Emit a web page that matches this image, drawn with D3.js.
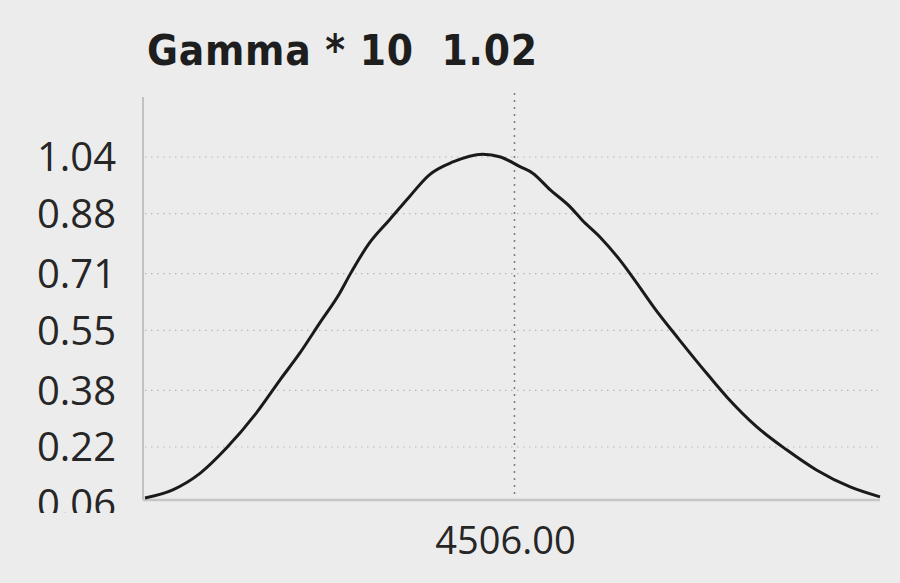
<!DOCTYPE html>
<html>
<head>
<meta charset="utf-8">
<script src="https://cdn.jsdelivr.net/npm/d3@7"></script>
<style>
  html, body { margin: 0; padding: 0; background: #ececec; }
  svg { display: block; }
</style>
</head>
<body>
<div id="vis"></div>
<script>
// values
var titleText = 'Gamma * 10  1.02';
var markerLabel = '4506.00';
var markerX = 4506;
var yTickLabels = ['0.06', '0.22', '0.38', '0.55', '0.71', '0.88', '1.04'];

var xValues = [4320, 4334, 4348, 4361, 4376, 4388, 4398, 4408, 4418, 4423, 4433, 4443, 4453, 4463, 4475, 4490, 4499,
               4509, 4515, 4524, 4534, 4540, 4549, 4559, 4569, 4576, 4589, 4604, 4613, 4628, 4643, 4658, 4675, 4690];
var gammaValues = [0.076, 0.099, 0.147, 0.217, 0.316, 0.410, 0.486, 0.571, 0.655, 0.706, 0.797, 0.862, 0.927, 0.989, 1.026, 1.048, 1.040,
                   1.012, 0.995, 0.947, 0.899, 0.862, 0.814, 0.749, 0.672, 0.616, 0.523, 0.420, 0.361, 0.277, 0.212, 0.155, 0.107, 0.079];

var width = 900;
var height = 583;
var margin = { top: 97, right: 20, bottom: 83, left: 143 };
var plotRight = 880;
var plotBottom = 500;

var svg = d3.select('#vis')
            .append('svg')
            .attr('width', width)
            .attr('height', height);

var xScale = d3.scaleLinear()
                .domain([d3.min(xValues), d3.max(xValues)])
                .range([145, plotRight]);

// 1.04 sits at 157px, 0.22 at 447px
var yScale = d3.scaleLinear()
                .domain([0.22, 1.04])
                .range([447, 157]);

// horizontal dotted grid
var yTicks = yTickLabels.map(function(d) { return +d; });
svg.append('g')
   .selectAll('line')
   .data(yTicks.slice(1))
   .enter()
   .append('line')
   .attr('x1', margin.left + 2)
   .attr('x2', plotRight - 2)
   .attr('y1', function(d) { return yScale(d); })
   .attr('y2', function(d) { return yScale(d); })
   .attr('stroke', '#b8b8b8')
   .attr('stroke-width', 1.2)
   .attr('stroke-dasharray', '1.5,4.5');

// axes lines
svg.append('line')
   .attr('x1', margin.left).attr('x2', margin.left)
   .attr('y1', margin.top).attr('y2', plotBottom)
   .attr('stroke', '#c2c2c2')
   .attr('stroke-width', 2);
svg.append('line')
   .attr('x1', margin.left).attr('x2', plotRight)
   .attr('y1', plotBottom).attr('y2', plotBottom)
   .attr('stroke', '#c6c6c6')
   .attr('stroke-width', 2.5);

// y tick labels, bottom one clipped like the original
svg.append('clipPath')
   .attr('id', 'labelClip')
   .append('rect')
   .attr('x', 0).attr('y', 0)
   .attr('width', margin.left).attr('height', 513);

svg.append('g')
   .attr('clip-path', 'url(#labelClip)')
   .selectAll('text')
   .data(yTickLabels)
   .enter()
   .append('text')
   .attr('x', 116)
   .attr('y', function(d) { return yScale(+d); })
   .attr('dy', '0.36em')
   .attr('text-anchor', 'end')
   .style('font-family', '"Open Sans", "Noto Sans", sans-serif')
   .style('font-size', '40px')
   .style('fill', '#262626')
   .text(function(d) { return d; });

// marker line
svg.append('line')
   .attr('x1', xScale(markerX)).attr('x2', xScale(markerX))
   .attr('y1', 93).attr('y2', plotBottom - 1)
   .attr('stroke', '#7a7a7a')
   .attr('stroke-width', 1.5)
   .attr('stroke-dasharray', '2,5');

svg.append('text')
   .attr('x', xScale(markerX) - 9)
   .attr('y', 554)
   .attr('text-anchor', 'middle')
   .style('font-family', '"Open Sans", "Noto Sans", sans-serif')
   .style('font-size', '38px')
   .style('fill', '#262626')
   .text(markerLabel);

// curve
var line = d3.line()
             .x(function(d, i) { return xScale(xValues[i]); })
             .y(function(d) { return yScale(d); })
             .curve(d3.curveMonotoneX);

svg.append('path')
   .datum(gammaValues)
   .attr('d', line)
   .attr('fill', 'none')
   .attr('stroke', '#1a1a1a')
   .attr('stroke-width', 3);

// title
svg.append('text')
   .attr('x', 147)
   .attr('y', 65)
   .attr('textLength', 390)
   .style('white-space', 'pre')
   .style('font-family', '"DejaVu Sans Condensed", "DejaVu Sans", sans-serif')
   .style('font-stretch', 'condensed')
   .style('font-weight', 'bold')
   .style('font-size', '42px')
   .style('fill', '#1e1e1e')
   .text(titleText);
</script>
</body>
</html>
